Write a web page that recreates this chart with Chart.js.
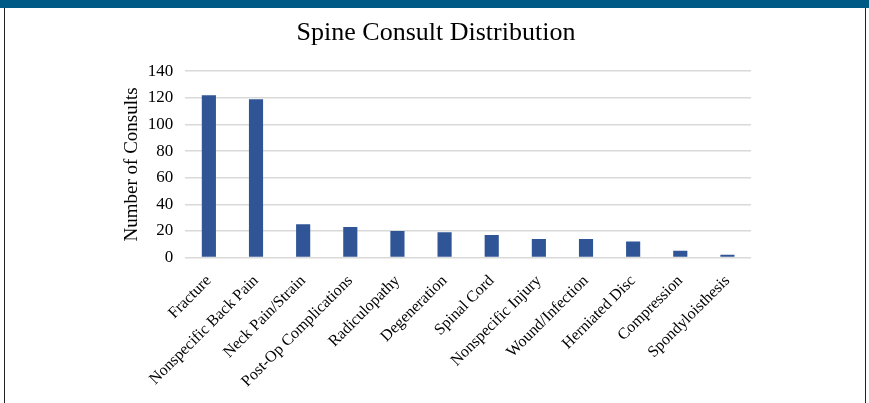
<!DOCTYPE html>
<html>
<head>
<meta charset="utf-8">
<script src="https://cdn.jsdelivr.net/npm/chart.js@4.4.0/dist/chart.umd.min.js"></script>
<style>
  html, body { margin: 0; padding: 0; background: #fff; }
  #strip { height: 8px; background: #005a86; }
  #box { position: absolute; left: 4px; top: 8px; width: 860px; height: 395px;
         border-left: 1.5px solid #222; border-right: 1.5px solid #222; }
  canvas { display: block; }
</style>
</head>
<body>
<div id="strip"></div>
<div id="box"><canvas id="chart" width="860" height="395"></canvas></div>
<script>
// consult categories and counts
const categories = ['Fracture', 'Nonspecific Back Pain', 'Neck Pain/Strain', 'Post-Op Complications',
  'Radiculopathy', 'Degeneration', 'Spinal Cord', 'Nonspecific Injury', 'Wound/Infection',
  'Herniated Disc', 'Compression', 'Spondyloisthesis'];
const consults = [122, 119, 25, 23, 20, 19, 17, 14, 14, 12, 5, 2];
const yTicks = [0, 20, 40, 60, 80, 100, 120, 140];

const serif = '"Liberation Serif", "Times New Roman", serif';

const ctx = document.getElementById('chart').getContext('2d');
new Chart(ctx, {
  type: 'bar',
  data: {
    labels: categories,
    datasets: [{
      data: consults,
      backgroundColor: '#2f5597',
      barPercentage: 0.3,
      categoryPercentage: 1.0
    }]
  },
  options: {
    responsive: false,
    animation: false,
    layout: { padding: { left: 116, right: 114, top: 4, bottom: 6 } },
    plugins: {
      legend: { display: false },
      tooltip: { enabled: false },
      title: {
        display: true,
        text: 'Spine Consult Distribution',
        color: '#000',
        font: { family: serif, size: 26, weight: 'normal' },
        padding: { top: 6, bottom: 22 }
      }
    },
    scales: {
      x: {
        grid: { display: false },
        border: { display: false },
        ticks: {
          color: '#000',
          font: { family: serif, size: 16 },
          minRotation: 45,
          maxRotation: 45,
          padding: 6
        }
      },
      y: {
        min: 0,
        max: 140,
        afterBuildTicks: axis => { axis.ticks = yTicks.map(v => ({ value: v })); },
        grid: { color: '#d9d9d9', lineWidth: 1.5, drawTicks: false },
        border: { display: false },
        ticks: {
          color: '#000',
          font: { family: serif, size: 17 },
          padding: 12
        },
        title: {
          display: true,
          text: 'Number of Consults',
          color: '#000',
          font: { family: serif, size: 19 },
          padding: { top: 0, bottom: -8 }
        }
      }
    }
  }
});
</script>
</body>
</html>
